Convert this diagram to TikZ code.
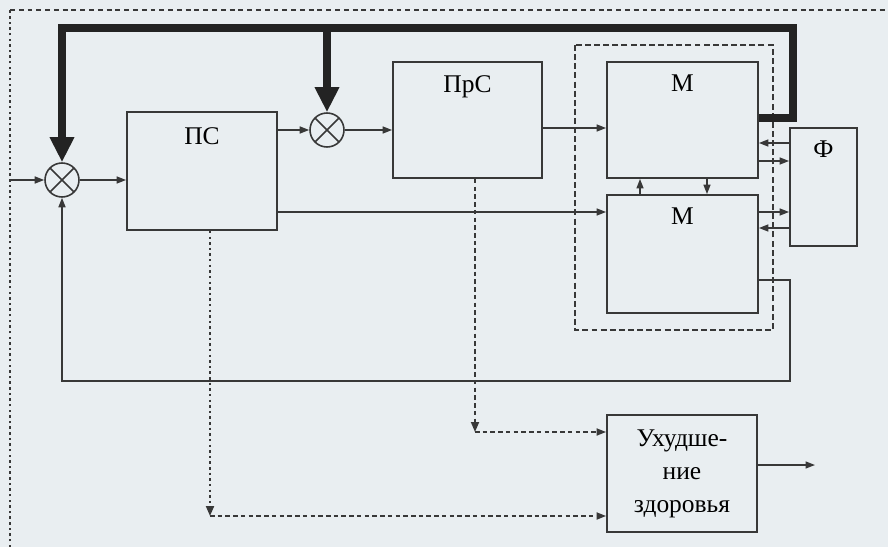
\documentclass[tikz,border=0pt]{standalone}
\usepackage{fontspec}
\setmainfont{Liberation Serif}
\usepackage{xcolor}
\usetikzlibrary{positioning,arrows.meta,calc}
\definecolor{cBg}{HTML}{E9EEF1}
\definecolor{cLine}{HTML}{383838}
\definecolor{cFb}{HTML}{232323}

\begin{document}
\begin{tikzpicture}[x=0.02cm,y=-0.02cm]
  \tikzset{
    blk/.style={draw=cLine, line width=1.05pt, inner sep=0pt},
    lbl/.style={font=\fontsize{14.5}{18.8}\selectfont, inner sep=0pt, text height=0.66em, text depth=0pt},
    sum/.style={circle, draw=cLine, line width=0.9pt, minimum size=0.68cm, inner sep=0pt,
      path picture={\draw[cLine, line width=0.9pt]
        (path picture bounding box.north west) -- (path picture bounding box.south east)
        (path picture bounding box.north east) -- (path picture bounding box.south west);}},
    arr/.style={draw=cLine, line width=0.85pt, -{Triangle[length=0.19cm, width=0.14cm]}},
    fb/.style={draw=cFb, line width=4.5pt},
    fbarr/.style={fb, -{Triangle[length=0.5cm, width=0.46cm]}},
    dots/.style={cLine, line width=1.1pt, dash pattern=on 1.4pt off 1.8pt},
    dsh/.style={cLine, line width=1pt, dash pattern=on 2.6pt off 1.8pt},
  }
  \fill[cBg] (0,0) rectangle (888,547);
  \useasboundingbox (0,0) rectangle (888,547);
  % outer frame, cut at right and bottom
  \draw[dots] (10,547) -- (10,10);
  \draw[cLine, line width=1pt, dash pattern=on 2.8pt off 2.2pt] (10,10) -- (888,10);
  % inner dashed box round the two models
  \draw[cLine, line width=1pt, dash pattern=on 3.4pt off 1.8pt] (575,45) rectangle (773,330);

  % blocks
  \node[blk, minimum width=3cm, minimum height=2.36cm] (ps) at (202,171) {};
  \node[blk, minimum width=2.98cm, minimum height=2.32cm] (prs) at (467.5,120) {};
  \node[blk, minimum width=3.02cm, minimum height=2.32cm] (m1) at (682.5,120) {};
  \node[blk, minimum width=3.02cm, minimum height=2.36cm] (m2) at (682.5,254) {};
  \node[blk, minimum width=1.34cm, minimum height=2.36cm] (f) at (823.5,187) {};
  \node[blk, minimum width=3cm, minimum height=2.34cm, align=center,
    font=\fontsize{14.5}{18.8}\selectfont] (uh) at (682,473.5) {Ухудше-\\ние\\здоровья};
  \node[lbl] (psl) at ([yshift=-0.56cm]ps.north) {ПС};
  \node[lbl] (prsl) at ([yshift=-0.52cm]prs.north) {ПрС};
  \node[lbl] (m1l) at ([yshift=-0.5cm]m1.north) {М};
  \node[lbl] (m2l) at ([yshift=-0.5cm]m2.north) {М};
  \node[lbl] (fl) at ([yshift=-0.5cm]f.north) {Ф};

  % summators
  \node[sum] (s1) at (62,180) {};
  \node[sum] (s2) at (327,130) {};

  % helper points
  \coordinate (in) at (10,180);
  \coordinate (fbR) at (793,28);
  \coordinate (lp) at (790,381);
  \coordinate (d1) at (210,516);
  \coordinate (d2) at (475,432);
  \coordinate (out) at (815,465);
  \coordinate (prsr) at ([yshift=-0.16cm]prs.east);
  \coordinate (psr) at ([yshift=-0.82cm]ps.east);
  \coordinate (m1e) at ([yshift=0.04cm]m1.east);
  \coordinate (m1r1) at ([yshift=-0.46cm]m1.east);
  \coordinate (m1r2) at ([yshift=-0.82cm]m1.east);
  \coordinate (m2r1) at ([yshift=0.84cm]m2.east);
  \coordinate (m2r2) at ([yshift=0.52cm]m2.east);
  \coordinate (m2r3) at ([yshift=-0.52cm]m2.east);
  \coordinate (up) at ([xshift=-0.85cm]m2.north);
  \coordinate (dn) at ([xshift=0.49cm]m1.south);

  % dotted and dashed links to the health block
  \draw[dots, -{Triangle[length=0.2cm, width=0.16cm]}] (ps.south -| d1) -- (d1);
  \draw[dsh, -{Triangle[length=0.19cm, width=0.14cm]}] (d1) -- (d1 -| uh.west);
  \draw[dsh, -{Triangle[length=0.2cm, width=0.16cm]}] (prs.south -| d2) -- (d2);
  \draw[dsh, -{Triangle[length=0.19cm, width=0.14cm]}] (d2) -- (d2 -| uh.west);

  % main signal path
  \draw[arr] (in) -- (s1.west);
  \draw[arr] (s1.east) -- (s1.east -| ps.west);
  \draw[arr] (ps.east |- s2.west) -- (s2.west);
  \draw[arr] (s2.east) -- (s2.east -| prs.west);
  \draw[arr] (prsr) -- (prsr -| m1.west);
  \draw[arr] (psr) -- (psr -| m2.west);
  \draw[arr] (up) -- (up |- m1.south);
  \draw[arr] (dn) -- (dn |- m2.north);
  \draw[arr] (m1r1 -| f.west) -- (m1r1);
  \draw[arr] (m1r2) -- (m1r2 -| f.west);
  \draw[arr] (m2r1) -- (m2r1 -| f.west);
  \draw[arr] (m2r2 -| f.west) -- (m2r2);
  \draw[arr] (m2r3) -| (lp) -| (s1.south);
  \draw[arr] (out -| uh.east) -- (out);

  % thick feedback
  \draw[fb] (m1e) -| (fbR) -| ([yshift=0.4cm]s1.north);
  \draw[fbarr] ([yshift=0.4cm]s1.north) -- (s1.north);
  \draw[fbarr] (s2.north |- fbR) -- (s2.north);
\end{tikzpicture}
\end{document}
